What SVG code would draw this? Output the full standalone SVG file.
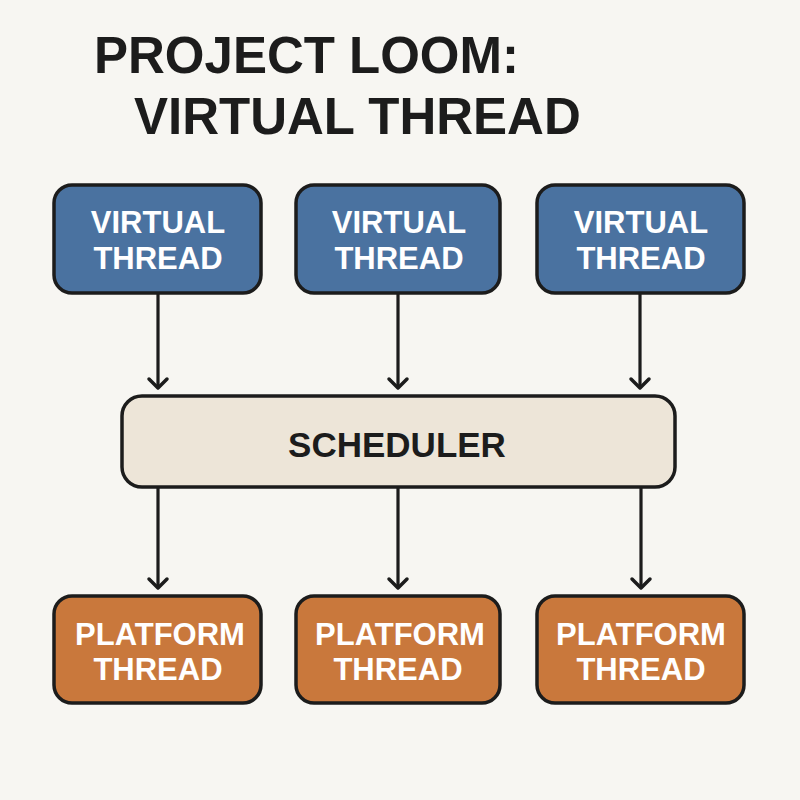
<svg xmlns="http://www.w3.org/2000/svg" width="800" height="800" viewBox="0 0 800 800">
<defs>
<style>
.title{font-family:"Liberation Sans",Arial,sans-serif;font-weight:bold;font-size:51px;fill:#1c1c1c}
.box{stroke:#1c1c1c;stroke-width:3.5}
.vt{fill:#4a72a0}
.pt{fill:#c9783c}
.sch{fill:#ede5d8}
.lbl{font-family:"Liberation Sans",Arial,sans-serif;font-weight:bold;font-size:31px;fill:#ffffff;text-anchor:middle}
.slbl{font-family:"Liberation Sans",Arial,sans-serif;font-weight:bold;font-size:35px;fill:#1c1c1c;text-anchor:middle}
</style>
<marker id="arrow" viewBox="-12 -12 24 24" refX="0" refY="0" markerWidth="24" markerHeight="24" markerUnits="userSpaceOnUse" orient="auto">
<path d="M-9,-9 L0,0 L-9,9" fill="none" stroke="#1c1c1c" stroke-width="3.5" stroke-linecap="round" stroke-linejoin="round"/>
</marker>
</defs>
<rect width="800" height="800" fill="#f7f6f2"/>
<g id="title">
<text class="title" x="94" y="73">PROJECT LOOM:</text>
<text class="title" x="134" y="134">VIRTUAL THREAD</text>
</g>
<g id="connectors" stroke="#1c1c1c" stroke-width="3.2" fill="none">
<path d="M158,293 V388" marker-end="url(#arrow)"/>
<path d="M398,293 V388" marker-end="url(#arrow)"/>
<path d="M640,293 V388" marker-end="url(#arrow)"/>
<path d="M158,487 V588" marker-end="url(#arrow)"/>
<path d="M398,487 V588" marker-end="url(#arrow)"/>
<path d="M641,487 V588" marker-end="url(#arrow)"/>
</g>
<g id="vt1"><rect class="box vt" x="54" y="185" width="207" height="108" rx="18"/><text class="lbl" x="158" y="233">VIRTUAL</text><text class="lbl" x="158" y="269">THREAD</text></g>
<g id="vt2"><rect class="box vt" x="296" y="185" width="204" height="108" rx="18"/><text class="lbl" x="399" y="233">VIRTUAL</text><text class="lbl" x="399" y="269">THREAD</text></g>
<g id="vt3"><rect class="box vt" x="537" y="185" width="207" height="108" rx="18"/><text class="lbl" x="641" y="233">VIRTUAL</text><text class="lbl" x="641" y="269">THREAD</text></g>
<g id="scheduler"><rect class="box sch" x="122" y="396" width="553" height="91" rx="20"/><text class="slbl" x="397" y="457">SCHEDULER</text></g>
<g id="pt1"><rect class="box pt" x="54" y="596" width="207" height="107" rx="18"/><text class="lbl" x="160" y="645">PLATFORM</text><text class="lbl" x="158" y="680">THREAD</text></g>
<g id="pt2"><rect class="box pt" x="296" y="596" width="204" height="107" rx="18"/><text class="lbl" x="400" y="645">PLATFORM</text><text class="lbl" x="398" y="680">THREAD</text></g>
<g id="pt3"><rect class="box pt" x="537" y="596" width="207" height="107" rx="18"/><text class="lbl" x="641" y="645">PLATFORM</text><text class="lbl" x="641" y="680">THREAD</text></g>
</svg>
